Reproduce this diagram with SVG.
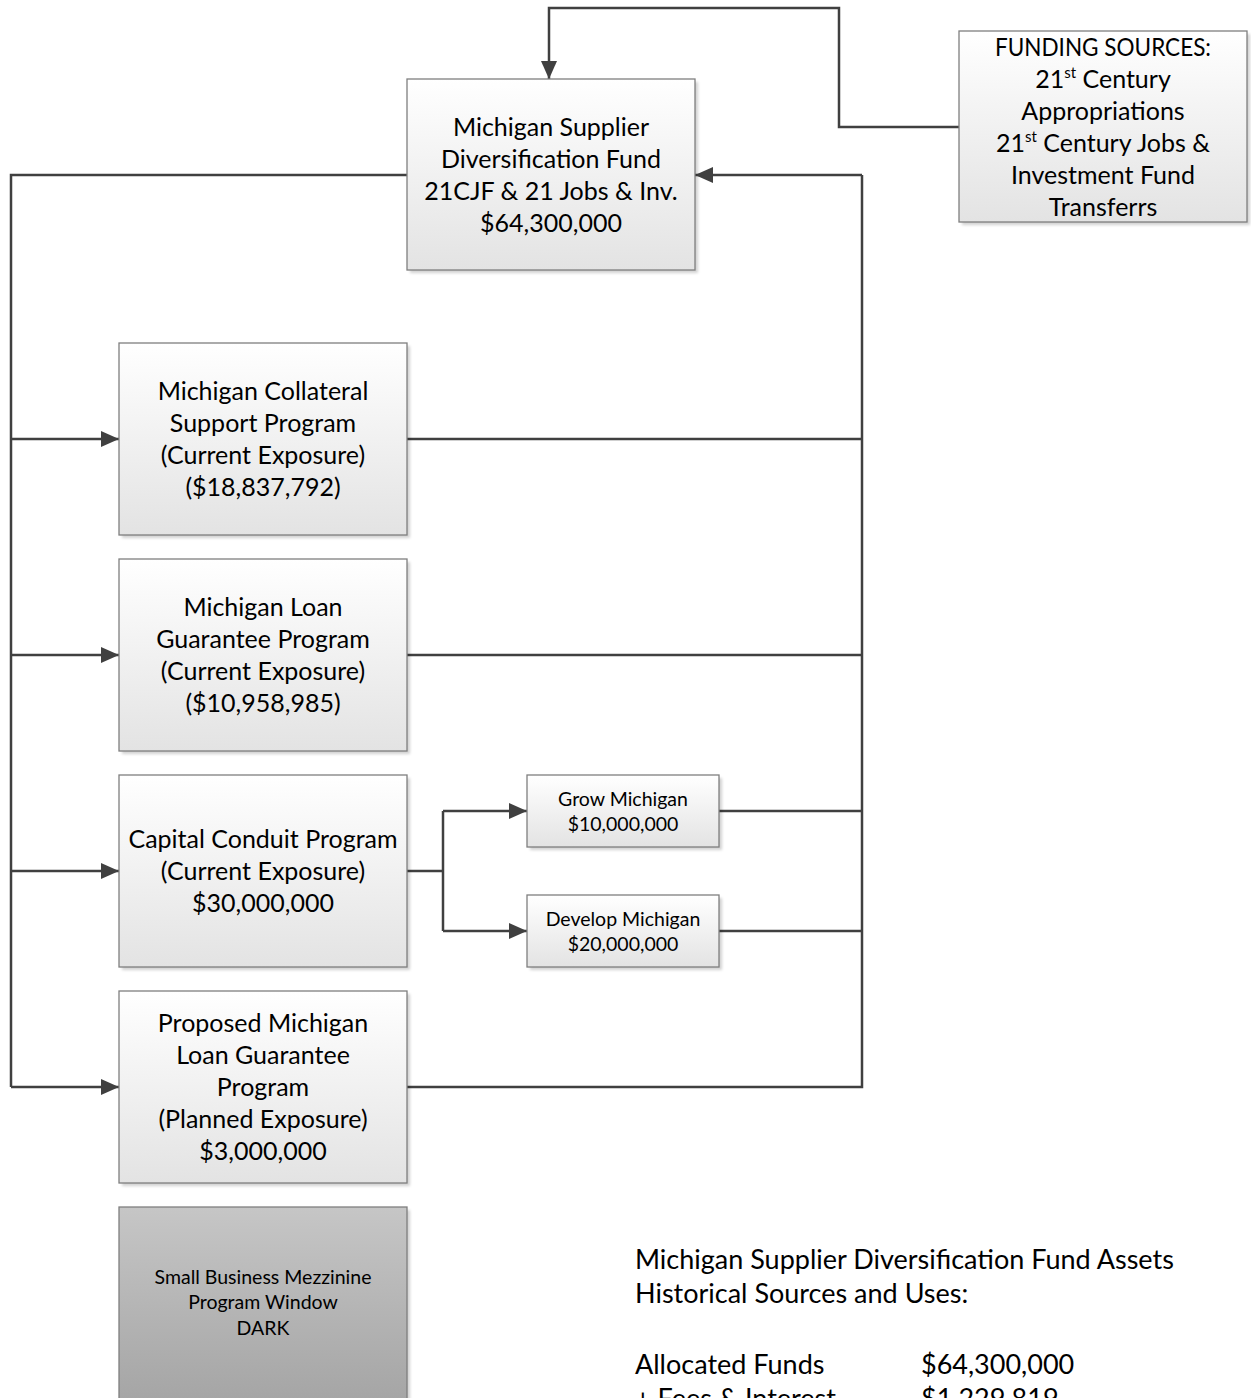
<svg xmlns="http://www.w3.org/2000/svg" width="1251" height="1398" viewBox="0 0 1251 1398">
<style>
  .box { fill: url(#g); stroke: #7f7f7f; stroke-width: 1.3; }
  .dark { fill: url(#gd); stroke: #7f7f7f; stroke-width: 1.3; }
  .sh { fill: #000; opacity: 0.18; filter: url(#blur); }
  .t { font-family: Lato, "Liberation Sans", sans-serif; font-size: 25px; fill: #000; text-anchor: middle; }
  .s { font-family: Lato, "Liberation Sans", sans-serif; font-size: 19.5px; fill: #000; text-anchor: middle; }
  .b { font-family: Lato, "Liberation Sans", sans-serif; font-size: 27px; fill: #000; }
  .sup { font-size: 15px; }
  .c { fill: none; stroke: #404040; stroke-width: 2.5; }
  .ca { fill: none; stroke: #404040; stroke-width: 2.5; marker-end: url(#arr); }
</style>
<defs>
  <linearGradient id="g" x1="0" y1="0" x2="0" y2="1">
    <stop offset="0" stop-color="#ffffff"/>
    <stop offset="1" stop-color="#e3e3e3"/>
  </linearGradient>
  <linearGradient id="gd" x1="0" y1="0" x2="0" y2="1">
    <stop offset="0" stop-color="#c6c6c6"/>
    <stop offset="1" stop-color="#a4a4a4"/>
  </linearGradient>
  <filter id="blur" x="-10%" y="-10%" width="120%" height="120%">
    <feGaussianBlur stdDeviation="1.5"/>
  </filter>
  <marker id="arr" viewBox="0 0 18 16" refX="18" refY="8" markerWidth="18" markerHeight="16" markerUnits="userSpaceOnUse" orient="auto">
    <path d="M0,0 L18,8 L0,16 z" fill="#404040"/>
  </marker>
</defs>
<rect width="1251" height="1398" fill="#ffffff"/>

<g id="connectors">
  <path class="ca" d="M959,127 H839 V8 H549 V79"/>
  <path class="c" d="M407,175 H11 V1087"/>
  <path class="ca" d="M11,439 H119"/>
  <path class="ca" d="M11,655 H119"/>
  <path class="ca" d="M11,871 H119"/>
  <path class="ca" d="M11,1087 H119"/>
  <path class="c" d="M407,1087 H862 V175"/>
  <path class="ca" d="M862,175 H695"/>
  <path class="c" d="M407,439 H862"/>
  <path class="c" d="M407,655 H862"/>
  <path class="c" d="M719,811 H862"/>
  <path class="c" d="M719,931 H862"/>
  <path class="c" d="M407,871 H443"/>
  <path class="c" d="M443,811 V931"/>
  <path class="ca" d="M443,811 H527"/>
  <path class="ca" d="M443,931 H527"/>
</g>

<g id="funding">
  <rect class="sh" x="962" y="34" width="288" height="191"/>
  <rect class="box" x="959" y="31" width="288" height="191"/>
  <text class="t" x="1103" y="56" textLength="216" lengthAdjust="spacingAndGlyphs">FUNDING SOURCES:</text>
  <text class="t" x="1103" y="88">21<tspan class="sup" dy="-10">st</tspan><tspan dy="10"> Century</tspan></text>
  <text class="t" x="1103" y="120">Appropriations</text>
  <text class="t" x="1103" y="152">21<tspan class="sup" dy="-10">st</tspan><tspan dy="10"> Century Jobs &amp;</tspan></text>
  <text class="t" x="1103" y="184">Investment Fund</text>
  <text class="t" x="1103" y="216">Transferrs</text>
</g>

<g id="main">
  <rect class="sh" x="410" y="82" width="288" height="191"/>
  <rect class="box" x="407" y="79" width="288" height="191"/>
  <text class="t" x="551" y="136">Michigan Supplier</text>
  <text class="t" x="551" y="168">Diversification Fund</text>
  <text class="t" x="551" y="200">21CJF &amp; 21 Jobs &amp; Inv.</text>
  <text class="t" x="551" y="232">$64,300,000</text>
</g>

<g id="collateral">
  <rect class="sh" x="122" y="346" width="288" height="192"/>
  <rect class="box" x="119" y="343" width="288" height="192"/>
  <text class="t" x="263" y="400">Michigan Collateral</text>
  <text class="t" x="263" y="432">Support Program</text>
  <text class="t" x="263" y="464">(Current Exposure)</text>
  <text class="t" x="263" y="496">($18,837,792)</text>
</g>

<g id="loan">
  <rect class="sh" x="122" y="562" width="288" height="192"/>
  <rect class="box" x="119" y="559" width="288" height="192"/>
  <text class="t" x="263" y="616">Michigan Loan</text>
  <text class="t" x="263" y="648">Guarantee Program</text>
  <text class="t" x="263" y="680">(Current Exposure)</text>
  <text class="t" x="263" y="712">($10,958,985)</text>
</g>

<g id="conduit">
  <rect class="sh" x="122" y="778" width="288" height="192"/>
  <rect class="box" x="119" y="775" width="288" height="192"/>
  <text class="t" x="263" y="848">Capital Conduit Program</text>
  <text class="t" x="263" y="880">(Current Exposure)</text>
  <text class="t" x="263" y="912">$30,000,000</text>
</g>

<g id="grow">
  <rect class="sh" x="530" y="778" width="192" height="72"/>
  <rect class="box" x="527" y="775" width="192" height="72"/>
  <text class="s" x="623" y="806">Grow Michigan</text>
  <text class="s" x="623" y="831">$10,000,000</text>
</g>

<g id="develop">
  <rect class="sh" x="530" y="898" width="192" height="72"/>
  <rect class="box" x="527" y="895" width="192" height="72"/>
  <text class="s" x="623" y="926">Develop Michigan</text>
  <text class="s" x="623" y="951">$20,000,000</text>
</g>

<g id="proposed">
  <rect class="sh" x="122" y="994" width="288" height="192"/>
  <rect class="box" x="119" y="991" width="288" height="192"/>
  <text class="t" x="263" y="1032">Proposed Michigan</text>
  <text class="t" x="263" y="1064">Loan Guarantee</text>
  <text class="t" x="263" y="1096">Program</text>
  <text class="t" x="263" y="1128">(Planned Exposure)</text>
  <text class="t" x="263" y="1160">$3,000,000</text>
</g>

<g id="dark">
  <rect class="sh" x="122" y="1210" width="288" height="200"/>
  <rect class="dark" x="119" y="1207" width="288" height="200"/>
  <text class="s" x="263" y="1284">Small Business Mezzinine</text>
  <text class="s" x="263" y="1309">Program Window</text>
  <text class="s" x="263" y="1335">DARK</text>
</g>

<g id="summary">
  <text class="b" x="635" y="1269">Michigan Supplier Diversification Fund Assets</text>
  <text class="b" x="635" y="1303">Historical Sources and Uses:</text>
  <text class="b" x="635" y="1374">Allocated Funds</text>
  <text class="b" x="921" y="1374">$64,300,000</text>
  <text class="b" x="635" y="1408">+ Fees &amp; Interest</text>
  <text class="b" x="921" y="1408">$1,229,819</text>
</g>
</svg>
